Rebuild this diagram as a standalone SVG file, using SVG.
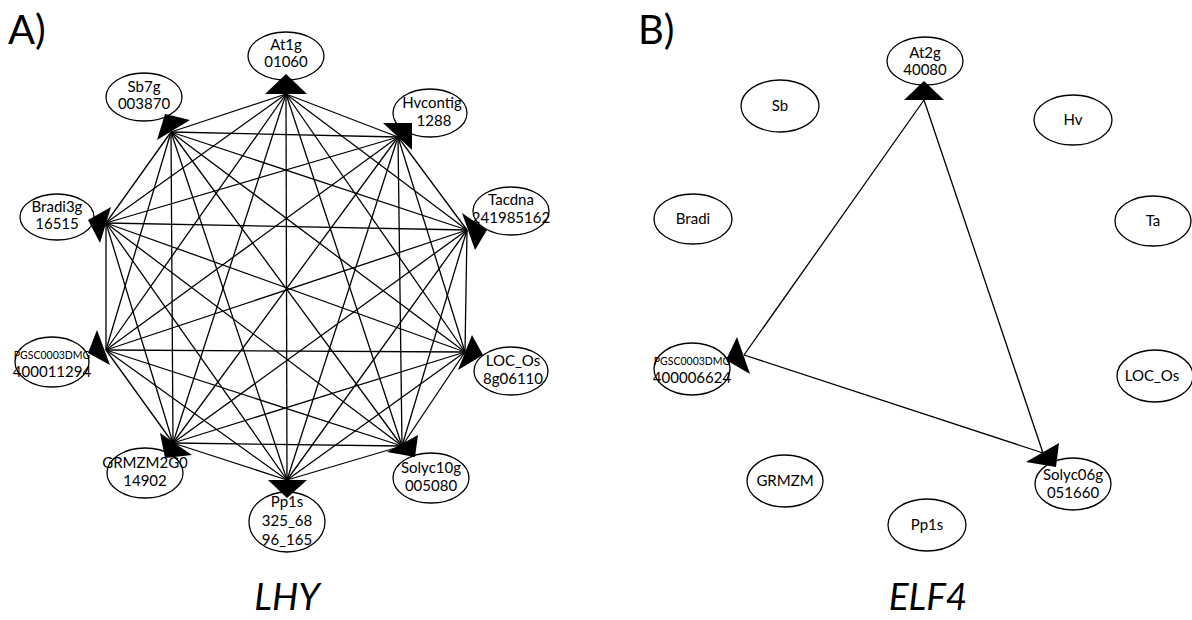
<svg xmlns="http://www.w3.org/2000/svg" width="1192" height="620" viewBox="0 0 1192 620">
<style>
.n ellipse{fill:#fff;stroke:#000;stroke-width:1.3}
.n text{font-family:Lato,"Open Sans","Liberation Sans",sans-serif;font-size:15px;text-anchor:middle;fill:#000}
.n text.s{font-size:10.5px}
.ah{fill:#000}
.e line{stroke:#000;stroke-width:1.3}
.pl{font-family:Lato,"Open Sans","Liberation Sans",sans-serif;font-size:40px;fill:#000}
.gl{font-family:Lato,"Open Sans","Liberation Sans",sans-serif;font-size:37px;font-style:italic;text-anchor:middle;fill:#000}
</style>
<rect width="1192" height="620" fill="#fff"/>
<text class="pl" x="8" y="44">A)</text>
<text class="pl" x="638" y="44">B)</text>
<text class="gl" x="287" y="610">LHY</text>
<text class="gl" x="928" y="610">ELF4</text>

<g id="edgesA" class="e">
<line x1="286" y1="94" x2="398" y2="137"/>
<line x1="286" y1="94" x2="467" y2="230"/>
<line x1="286" y1="94" x2="465" y2="352"/>
<line x1="286" y1="94" x2="402" y2="446"/>
<line x1="286" y1="94" x2="287" y2="480"/>
<line x1="286" y1="94" x2="173" y2="443"/>
<line x1="286" y1="94" x2="106" y2="350"/>
<line x1="286" y1="94" x2="106" y2="223"/>
<line x1="286" y1="94" x2="171" y2="132"/>
<line x1="398" y1="137" x2="467" y2="230"/>
<line x1="398" y1="137" x2="465" y2="352"/>
<line x1="398" y1="137" x2="402" y2="446"/>
<line x1="398" y1="137" x2="287" y2="480"/>
<line x1="398" y1="137" x2="173" y2="443"/>
<line x1="398" y1="137" x2="106" y2="350"/>
<line x1="398" y1="137" x2="106" y2="223"/>
<line x1="398" y1="137" x2="171" y2="132"/>
<line x1="467" y1="230" x2="465" y2="352"/>
<line x1="467" y1="230" x2="402" y2="446"/>
<line x1="467" y1="230" x2="287" y2="480"/>
<line x1="467" y1="230" x2="173" y2="443"/>
<line x1="467" y1="230" x2="106" y2="350"/>
<line x1="467" y1="230" x2="106" y2="223"/>
<line x1="467" y1="230" x2="171" y2="132"/>
<line x1="465" y1="352" x2="402" y2="446"/>
<line x1="465" y1="352" x2="287" y2="480"/>
<line x1="465" y1="352" x2="173" y2="443"/>
<line x1="465" y1="352" x2="106" y2="350"/>
<line x1="465" y1="352" x2="106" y2="223"/>
<line x1="465" y1="352" x2="171" y2="132"/>
<line x1="402" y1="446" x2="287" y2="480"/>
<line x1="402" y1="446" x2="173" y2="443"/>
<line x1="402" y1="446" x2="106" y2="350"/>
<line x1="402" y1="446" x2="106" y2="223"/>
<line x1="402" y1="446" x2="171" y2="132"/>
<line x1="287" y1="480" x2="173" y2="443"/>
<line x1="287" y1="480" x2="106" y2="350"/>
<line x1="287" y1="480" x2="106" y2="223"/>
<line x1="287" y1="480" x2="171" y2="132"/>
<line x1="173" y1="443" x2="106" y2="350"/>
<line x1="173" y1="443" x2="106" y2="223"/>
<line x1="173" y1="443" x2="171" y2="132"/>
<line x1="106" y1="350" x2="106" y2="223"/>
<line x1="106" y1="350" x2="171" y2="132"/>
<line x1="106" y1="223" x2="171" y2="132"/>
</g>

<g id="edgesB" class="e">
<line x1="924" y1="100" x2="744" y2="355"/>
<line x1="924" y1="100" x2="1043" y2="453"/>
<line x1="744" y1="355" x2="1043" y2="453"/>
</g>

<g id="A_At1g" class="n"><ellipse cx="286" cy="56" rx="38" ry="24"/><text x="286" y="50">At1g</text><text x="286" y="67">01060</text><polygon class="ah" points="286,74 265,94 307,94"/></g>
<g id="A_Sb7g" class="n"><ellipse cx="144" cy="97" rx="38" ry="24"/><text x="144" y="92">Sb7g</text><text x="144" y="109">003870</text><polygon class="ah" points="157,140 165,114 190,120"/></g>
<g id="A_Hvcontig" class="n"><ellipse cx="430" cy="113" rx="37" ry="24"/><text x="432" y="108">Hvcontig</text><text x="434" y="126">1288</text><polygon class="ah" points="383,123 412,123 412,150"/></g>
<g id="A_Bradi3g" class="n"><ellipse cx="57" cy="217" rx="37" ry="23"/><text x="57" y="212">Bradi3g</text><text x="57" y="229">16515</text><polygon class="ah" points="88,220 111,207 100,243"/></g>
<g id="A_Tacdna" class="n"><ellipse cx="511" cy="211" rx="38" ry="24"/><text x="511" y="205">Tacdna</text><text x="511" y="223">241985162</text><polygon class="ah" points="462,213 487,230 475,250"/></g>
<g id="A_PGSC" class="n"><ellipse cx="52" cy="362" rx="37" ry="25"/><text class="s" x="52" y="359">PGSC0003DMG</text><text x="52" y="377">400011294</text><polygon class="ah" points="97,330 110,365 88,353"/></g>
<g id="A_LOC_Os" class="n"><ellipse cx="511" cy="371" rx="37" ry="24"/><text x="513" y="366">LOC_Os</text><text x="513" y="384">8g06110</text><polygon class="ah" points="472,335 483,355 458,370"/></g>
<g id="A_GRMZM" class="n"><ellipse cx="145" cy="473" rx="38" ry="25"/><text x="145" y="468">GRMZM2G0</text><text x="145" y="486">14902</text><polygon class="ah" points="160,433 192,455 165,458"/></g>
<g id="A_Solyc10g" class="n"><ellipse cx="431" cy="478" rx="38" ry="25"/><text x="431" y="473">Solyc10g</text><text x="431" y="491">005080</text><polygon class="ah" points="387,452 418,435 415,457"/></g>
<g id="A_Pp1s" class="n"><ellipse cx="287" cy="522" rx="38" ry="30"/><text x="287" y="507">Pp1s</text><text x="287" y="526">325_68</text><text x="287" y="545">96_165</text><polygon class="ah" points="268,480 307,480 287,498"/></g>

<g id="B_At2g" class="n"><ellipse cx="925" cy="61" rx="38" ry="24"/><text x="925" y="58">At2g</text><text x="925" y="75">40080</text><polygon class="ah" points="924,81 904,100 944,100"/></g>
<g id="B_Sb" class="n"><ellipse cx="780" cy="106" rx="39" ry="26"/><text x="780" y="111">Sb</text></g>
<g id="B_Hv" class="n"><ellipse cx="1073" cy="120" rx="39" ry="25"/><text x="1073" y="125">Hv</text></g>
<g id="B_Bradi" class="n"><ellipse cx="693" cy="219" rx="39" ry="25"/><text x="693" y="224">Bradi</text></g>
<g id="B_Ta" class="n"><ellipse cx="1153" cy="221" rx="38" ry="25"/><text x="1153" y="226">Ta</text></g>
<g id="B_PGSC" class="n"><ellipse cx="692" cy="369" rx="38" ry="26"/><text class="s" x="692" y="365">PGSC0003DMG</text><text x="692" y="383">400006624</text><polygon class="ah" points="737,337 750,374 726,360"/></g>
<g id="B_LOC_Os" class="n"><ellipse cx="1155" cy="376" rx="38" ry="26"/><text x="1152" y="381">LOC_Os</text></g>
<g id="B_GRMZM" class="n"><ellipse cx="785" cy="481" rx="38" ry="26"/><text x="785" y="486">GRMZM</text></g>
<g id="B_Solyc06g" class="n"><ellipse cx="1073" cy="484" rx="38" ry="26"/><text x="1073" y="480">Solyc06g</text><text x="1073" y="498">051660</text><polygon class="ah" points="1026,462 1059,443 1056,467"/></g>
<g id="B_Pp1s" class="n"><ellipse cx="927" cy="525" rx="39" ry="26"/><text x="927" y="530">Pp1s</text></g>
</svg>
